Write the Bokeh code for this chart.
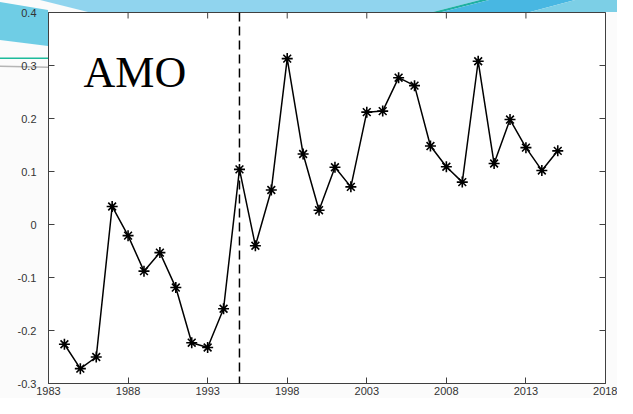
import math
from urllib.parse import quote
from bokeh.plotting import figure
from bokeh.models import (Span, Label, FixedTicker, NumeralTickFormatter,
                          Range1d, InlineStyleSheet)
from bokeh.embed import file_html
from bokeh.resources import INLINE

# ---- data ----
years = list(range(1984, 2016))
amo = [-0.226, -0.272, -0.250, 0.034, -0.021, -0.088, -0.053, -0.119,
       -0.223, -0.232, -0.159, 0.104, -0.040, 0.065, 0.313, 0.133,
       0.027, 0.108, 0.071, 0.212, 0.214, 0.277, 0.262, 0.148,
       0.109, 0.080, 0.308, 0.115, 0.198, 0.145, 0.102, 0.139]
x_ticks = [1983, 1988, 1993, 1998, 2003, 2008, 2013, 2018]
y_ticks = [-0.3, -0.2, -0.1, 0.0, 0.1, 0.2, 0.3, 0.4]
x_range = (1983, 2018)
y_range = (-0.3, 0.4)
break_year = 1995
title_text = "AMO"

AX = "#404040"
LBL = "#333333"

W, H = 617, 398
BL, BT, BR, BB = 48, 12, 12, 15

p = figure(width=W, height=H, output_backend="svg", toolbar_location=None,
           x_range=Range1d(*x_range), y_range=Range1d(*y_range),
           min_border_left=BL, min_border_right=BR, min_border_top=BT,
           min_border_bottom=BB)
p.border_fill_color = None
p.background_fill_color = "white"
p.outline_line_color = AX
p.outline_line_width = 1
p.xgrid.visible = False
p.ygrid.visible = False

# decorative slide background (swoosh of the presentation template) behind the canvas
shapes = [
    ("0,2 48,10 48,46 0,40", "#6fcde5"),
    ("40,0 480,0 433,12 88,12", "#90d4ee"),
    ("480,0 489,0 442,12 433,12", "#1fb0a2"),
    ("489,0 575,0 530,12 442,12", "#48b7e2"),
    ("575,0 633,0 633,7 617,12 530,12", "#7ccfe6"),
    ("0,57.5 48,57.5 48,59 0,59", "#1dbb9b"),
    ("0,65.5 48,66.5 48,68 0,67", "#b5b5b5"),
]
svg = ('<svg xmlns="http://www.w3.org/2000/svg" width="%d" height="%d">' % (W, H)
       + '<rect width="%d" height="%d" fill="#fbfbfb"/>' % (W, H)
       + "".join('<polygon points="%s" fill="%s"/>' % (pts, c) for pts, c in shapes)
       + "</svg>")
bg_css = (":host { background-image: url(\"data:image/svg+xml,%s\"); "
          "background-repeat: no-repeat; background-position: 0 0; }" % quote(svg))
p.stylesheets = [InlineStyleSheet(css=bg_css)]

# axes styling
for ax in (p.xaxis[0], p.yaxis[0]):
    ax.axis_line_color = AX
    ax.major_tick_line_color = AX
    ax.major_tick_in = 6
    ax.major_tick_out = 0
    ax.minor_tick_line_color = None
    ax.major_label_text_font = "Liberation Sans"
    ax.major_label_text_font_size = "11px"
    ax.major_label_text_color = LBL

p.xaxis[0].ticker = FixedTicker(ticks=x_ticks)
p.yaxis[0].ticker = FixedTicker(ticks=y_ticks)
p.yaxis[0].formatter = NumeralTickFormatter(format="0.[0]")
p.yaxis[0].major_label_standoff = 12
p.xaxis[0].major_label_standoff = 3

# inward ticks on the top and right edges of the box (half of each dash is clipped by the frame)
p.scatter(x_ticks, [y_range[1]] * len(x_ticks), marker="dash", size=12,
          angle=math.pi / 2, line_color=AX, line_width=1)
p.scatter([x_range[1]] * len(y_ticks), y_ticks, marker="dash", size=12,
          angle=0, line_color=AX, line_width=1)

# dashed break line
p.add_layout(Span(location=break_year, dimension="height", line_color="black",
                  line_width=1.5, line_dash="9 5"))

# series
p.line(years, amo, line_color="black", line_width=1.5)
p.scatter(years, amo, marker="asterisk", size=11, line_color="black", line_width=1.6)

p.add_layout(Label(x=1985.2, y=0.287, text=title_text, text_font="Liberation Serif",
                   text_font_size="44px", text_color="black",
                   text_baseline="alphabetic"))

open("out.html", "w").write(file_html(p, INLINE))
